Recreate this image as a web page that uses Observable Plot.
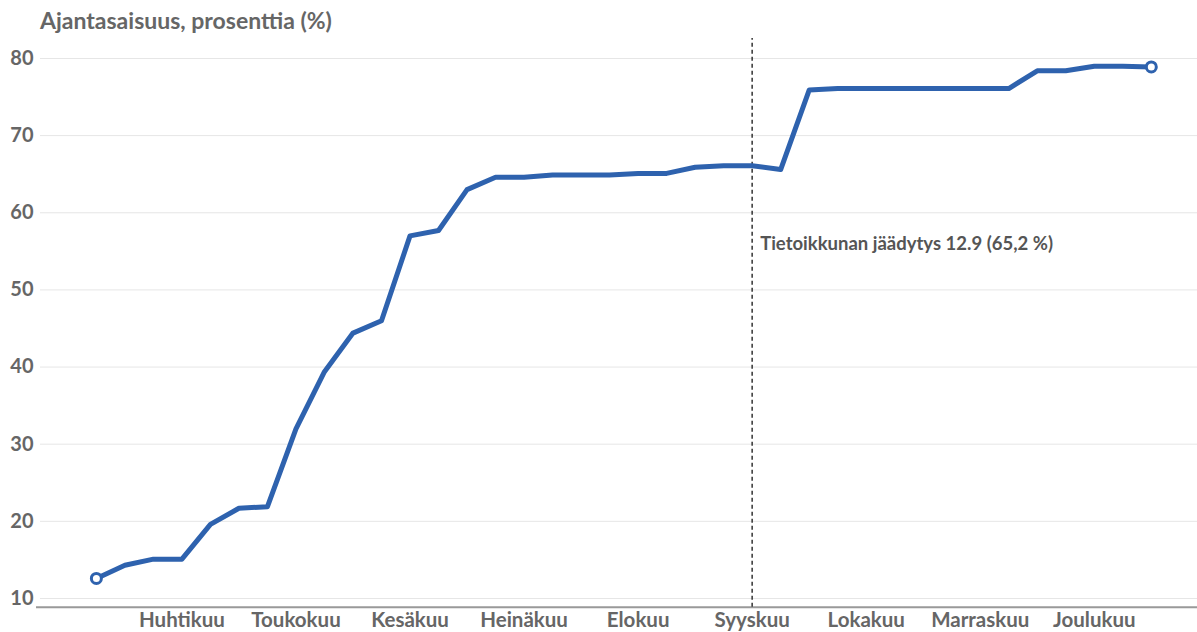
<!DOCTYPE html>
<html>
<head>
<meta charset="utf-8">
<script src="https://cdn.jsdelivr.net/npm/d3@7"></script>
<script src="https://cdn.jsdelivr.net/npm/@observablehq/plot@0.6"></script>
<style>
  html, body { margin: 0; padding: 0; background: #fff; }
  #wrap { position: relative; width: 1197px; height: 632px; overflow: hidden; font-family: Lato, "Noto Sans", sans-serif; }
  #title { position: absolute; left: 40px; top: 7px; font-size: 23px; line-height: 26px; font-weight: 700; color: #666; }
  #chart { position: absolute; left: 0; top: 36px; }
</style>
</head>
<body>
<div id="wrap">
  <div id="title">Ajantasaisuus, prosenttia (%)</div>
  <div id="chart"></div>
</div>
<script>
const monthLabels = ["Huhtikuu", "Toukokuu", "Kesäkuu", "Heinäkuu", "Elokuu", "Syyskuu", "Lokakuu", "Marraskuu", "Joulukuu"];
const monthTickIndex = [3, 7, 11, 15, 19, 23, 27, 31, 35];
const values = [12.6, 14.3, 15.1, 15.1, 19.6, 21.7, 21.9, 32.0, 39.4, 44.4, 46.0, 57.0, 57.7, 63.0, 64.6, 64.6, 64.9, 64.9, 64.9, 65.1, 65.1, 65.9, 66.1, 66.1, 65.6, 75.9, 76.1, 76.1, 76.1, 76.1, 76.1, 76.1, 76.1, 78.4, 78.4, 79.0, 79.0, 78.9];
const yTicks = [10, 20, 30, 40, 50, 60, 70, 80];
const freezeIndex = 23;
const freezeLabel = "Tietoikkunan jäädytys 12.9 (65,2 %)";
const freezeLabelY = 55.9;

const blue = "#2e62ae";
const yMin = 8.87, yMax = 82.59;
const endpoints = [0, values.length - 1];

const chart = Plot.plot({
  width: 1197,
  height: 596,
  marginTop: 2,
  marginBottom: 25.3,
  marginLeft: 40,
  marginRight: 0,
  style: { fontFamily: "Lato, 'Noto Sans', sans-serif", fontWeight: 700, color: "#666", background: "transparent" },
  x: { domain: [-1.96, 38.62], label: null },
  y: { domain: [yMin, yMax], label: null },
  marks: [
    Plot.gridY(yTicks, { stroke: "#e6e6e6", strokeOpacity: 1, strokeWidth: 1 }),
    Plot.axisY(yTicks, { tickSize: 0, tickPadding: 7, fontSize: 20, fill: "#666", label: null }),
    Plot.axisX(monthTickIndex, {
      tickSize: 0, tickPadding: 5, fontSize: 20.5, fill: "#666", label: null,
      tickFormat: d => monthLabels[monthTickIndex.indexOf(d)]
    }),
    Plot.ruleY([yMin], { x1: -2.1, x2: 38.62, stroke: "#999", strokeWidth: 2 }),
    Plot.ruleX([freezeIndex], { y1: yMin, y2: yMax, stroke: "#333", strokeWidth: 1.5, strokeDasharray: "4,3" }),
    Plot.text([freezeLabel], { x: freezeIndex, y: freezeLabelY, text: d => d, textAnchor: "start", dx: 8, fontSize: 18.5, fontWeight: 700, fill: "#555" }),
    Plot.line(values, { x: (d, i) => i, y: d => d, stroke: blue, strokeWidth: 5, strokeLinejoin: "round", strokeLinecap: "round" }),
    Plot.dot(endpoints, { x: i => i, y: i => values[i], r: 5, fill: "white", stroke: blue, strokeWidth: 3 })
  ]
});
document.getElementById("chart").appendChild(chart);
</script>
</body>
</html>
